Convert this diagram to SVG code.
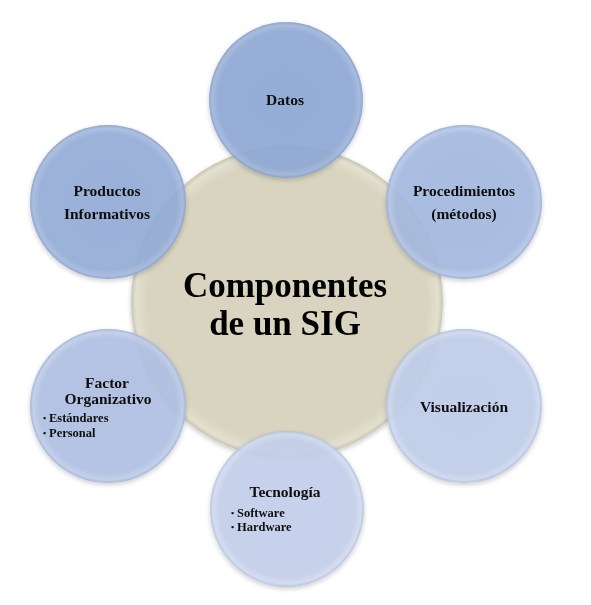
<svg xmlns="http://www.w3.org/2000/svg" width="591" height="605" viewBox="0 0 591 605">
<defs>
  <radialGradient id="gc" cx="50%" cy="50%" r="50%">
    <stop offset="0" stop-color="#d8d4c0"/>
    <stop offset="0.9" stop-color="#d8d4c0"/>
    <stop offset="0.97" stop-color="#e3e0cf"/>
    <stop offset="1" stop-color="#c9c5b0"/>
  </radialGradient>
  <radialGradient id="g1" cx="50%" cy="50%" r="50%">
    <stop offset="0" stop-color="#8ea8d6"/>
    <stop offset="0.88" stop-color="#90a9d6"/>
    <stop offset="0.96" stop-color="#a2b7de"/>
    <stop offset="1" stop-color="#849dca"/>
  </radialGradient>
  <radialGradient id="g2" cx="50%" cy="50%" r="50%">
    <stop offset="0" stop-color="#a4b9e1"/>
    <stop offset="0.88" stop-color="#a5bae1"/>
    <stop offset="0.96" stop-color="#b6c7e8"/>
    <stop offset="1" stop-color="#97acd4"/>
  </radialGradient>
  <radialGradient id="g3" cx="50%" cy="50%" r="50%">
    <stop offset="0" stop-color="#c0cdeb"/>
    <stop offset="0.88" stop-color="#c1ceeb"/>
    <stop offset="0.96" stop-color="#d0daf0"/>
    <stop offset="1" stop-color="#b0bedc"/>
  </radialGradient>
  <radialGradient id="g4" cx="50%" cy="50%" r="50%">
    <stop offset="0" stop-color="#c4d0ed"/>
    <stop offset="0.88" stop-color="#c5d0ec"/>
    <stop offset="0.96" stop-color="#d3ddf2"/>
    <stop offset="1" stop-color="#b3c0de"/>
  </radialGradient>
  <radialGradient id="g5" cx="50%" cy="50%" r="50%">
    <stop offset="0" stop-color="#afc0e5"/>
    <stop offset="0.88" stop-color="#b0c1e5"/>
    <stop offset="0.96" stop-color="#c1cfeb"/>
    <stop offset="1" stop-color="#a0b2d6"/>
  </radialGradient>
  <radialGradient id="g6" cx="50%" cy="50%" r="50%">
    <stop offset="0" stop-color="#93acd8"/>
    <stop offset="0.88" stop-color="#94add8"/>
    <stop offset="0.96" stop-color="#a6bbe0"/>
    <stop offset="1" stop-color="#88a0cb"/>
  </radialGradient>
  <filter id="sh" x="-10%" y="-10%" width="120%" height="125%">
    <feGaussianBlur in="SourceAlpha" stdDeviation="2.5"/>
    <feOffset dy="2"/>
    <feComponentTransfer><feFuncA type="linear" slope="0.22"/></feComponentTransfer>
    <feMerge><feMergeNode/><feMergeNode in="SourceGraphic"/></feMerge>
  </filter>
</defs>
<style>
  .sat { opacity: 0.9; }
  .lbl { font-family: "Liberation Serif", "Times New Roman", serif; font-weight: bold; fill: #111; text-anchor: middle; font-size: 15.5px; }
  .sub { font-family: "Liberation Serif", "Times New Roman", serif; font-weight: bold; fill: #111; font-size: 12.5px; }
  .dot { font-family: "Liberation Serif", "Times New Roman", serif; font-weight: bold; fill: #111; font-size: 9px; }
  .big { font-family: "Liberation Serif", "Times New Roman", serif; font-weight: bold; fill: #000; text-anchor: middle; font-size: 35px; }
</style>
<rect width="591" height="605" fill="#ffffff"/>
<g id="connectors"/>
<g id="center" filter="url(#sh)">
  <circle cx="287" cy="302" r="156" fill="url(#gc)"/>
  <text class="big" x="285" y="297">Componentes</text>
  <text class="big" x="285" y="335">de un SIG</text>
</g>
<g id="datos" filter="url(#sh)">
  <ellipse class="sat" cx="286" cy="100" rx="77" ry="78" fill="url(#g1)"/>
  <text class="lbl" x="285" y="105">Datos</text>
</g>
<g id="procedimientos" filter="url(#sh)">
  <ellipse class="sat" cx="464" cy="202" rx="78" ry="77" fill="url(#g2)"/>
  <text class="lbl" x="464" y="196">Procedimientos</text>
  <text class="lbl" x="464" y="219">(métodos)</text>
</g>
<g id="visualizacion" filter="url(#sh)">
  <ellipse class="sat" cx="464" cy="406" rx="78" ry="77" fill="url(#g3)"/>
  <text class="lbl" x="464" y="412">Visualización</text>
</g>
<g id="tecnologia" filter="url(#sh)">
  <ellipse class="sat" cx="287" cy="509" rx="77" ry="78" fill="url(#g4)"/>
  <text class="lbl" x="285" y="497">Tecnología</text>
  <text class="dot" x="231" y="516">•</text>
  <text class="sub" x="237" y="517">Software</text>
  <text class="dot" x="231" y="530">•</text>
  <text class="sub" x="237" y="531">Hardware</text>
</g>
<g id="factor" filter="url(#sh)">
  <ellipse class="sat" cx="108" cy="406" rx="78" ry="77" fill="url(#g5)"/>
  <text class="lbl" x="107" y="388">Factor</text>
  <text class="lbl" x="108" y="404">Organizativo</text>
  <text class="dot" x="43" y="421">•</text>
  <text class="sub" x="49" y="422">Estándares</text>
  <text class="dot" x="43" y="436">•</text>
  <text class="sub" x="49" y="437">Personal</text>
</g>
<g id="productos" filter="url(#sh)">
  <ellipse class="sat" cx="108" cy="202" rx="78" ry="77" fill="url(#g6)"/>
  <text class="lbl" x="107" y="196">Productos</text>
  <text class="lbl" x="107" y="219">Informativos</text>
</g>
</svg>
